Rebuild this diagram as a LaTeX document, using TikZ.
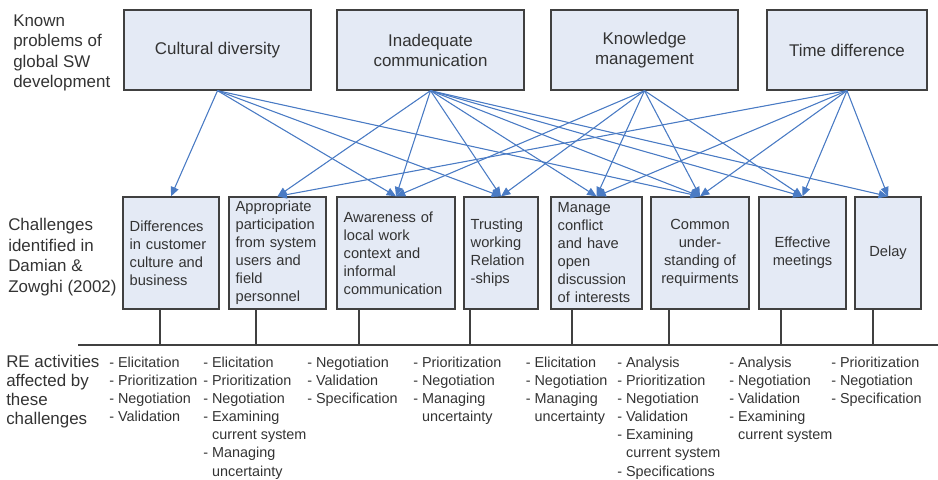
\documentclass[tikz,border=0pt]{standalone}
\usepackage{fontspec}
\setmainfont{Liberation Sans}
\usepackage{tikz}
\usetikzlibrary{arrows.meta, positioning}

\definecolor{boxfill}{HTML}{E4EAF5}
\definecolor{boxline}{HTML}{404040}
\definecolor{arrowblue}{HTML}{4A7BC4}
\definecolor{textgray}{HTML}{333333}

\begin{document}
\begin{tikzpicture}[x=0.75pt, y=-0.75pt,
        problem/.style={rectangle, draw=boxline, line width=1pt, fill=boxfill, minimum height=60pt, minimum width=140.25pt, font=\fontsize{12.7}{15}\selectfont, align=center, text=textgray},
        challenge/.style={rectangle, draw=boxline, line width=1pt, fill=boxfill, minimum height=84pt, inner xsep=5pt, inner ysep=1pt, font=\fontsize{11}{13.5}\selectfont, text=textgray},
        rowtitle/.style={anchor=west, inner sep=0pt, align=left, font=\fontsize{12.7}{15.2}\selectfont, text=textgray},
        activity/.style={anchor=north west, inner sep=0pt, align=left, font=\fontsize{10.8}{13.6}\selectfont, text=textgray},
        arrow/.style={-{Triangle[length=7pt, width=6pt]}, draw=arrowblue, fill=arrowblue, line width=0.8pt},
        connector/.style={draw=boxline, line width=0.9pt}
    ]
        \useasboundingbox (0,0) rectangle (938,479);

        % Row titles
        \node[rowtitle] (problemtitle) at (13,53) {Known\\problems of\\global SW\\development};
        \node[rowtitle, font=\fontsize{12.7}{15.5}\selectfont] (challengetitle) at (8,257) {Challenges\\identified in\\Damian \&\\Zowghi (2002)};
        \node[rowtitle, font=\fontsize{12.7}{14.3}\selectfont] (activitytitle) at (6,392) {RE activities\\affected by\\these\\challenges};

        % Known problems
        \node[problem] (cultural) at (217.5,50) {Cultural diversity};
        \node[problem] (communication) at (430.5,50) {Inadequate\\communication};
        \node[problem] (knowledge) at (644.5,50) {Knowledge\\management};
        \node[problem, minimum width=120pt] (time) at (847,50) {Time difference};

        % Challenges
        \node[challenge, text width=62pt, align=left] (differences) at (171,253) {Differences\\in customer\\culture and\\business};
        \node[challenge, text width=62.75pt, align=left] (participation) at (277.5,253) {Appropriate\\participation\\from system\\users and\\field\\personnel};
        \node[challenge, text width=78.5pt, align=left] (awareness) at (396,253) {Awareness of\\local work\\context and\\informal\\communication};
        \node[challenge, text width=45.5pt, align=left] (trust) at (501,253) {Trusting\\working\\Relation\\-ships};
        \node[challenge, text width=58.25pt, align=left] (conflict) at (596.5,253) {Manage\\conflict\\and have\\open\\discussion\\of interests};
        \node[challenge, minimum width=73.5pt, align=center] (understanding) at (700,253) {Common\\under-\\standing of\\requirments};
        \node[challenge, minimum width=65.25pt, align=center] (meetings) at (802.5,253) {Effective\\meetings};
        \node[challenge, minimum width=49.5pt, align=center] (delay) at (888,253) {Delay};

        % Arrows
        \foreach \dst in {differences, awareness, trust, understanding}
            \draw[arrow] (cultural.south) -- (\dst.north);
        \foreach \dst in {participation, awareness, trust, conflict, understanding, meetings, delay}
            \draw[arrow] (communication.south) -- (\dst.north);
        \foreach \dst in {awareness, trust, conflict, understanding, meetings}
            \draw[arrow] (knowledge.south) -- (\dst.north);
        \foreach \dst in {participation, conflict, understanding, meetings, delay}
            \draw[arrow] (time.south) -- (\dst.north);

        % Base line and ticks
        \coordinate (basewest) at (78,345);
        \coordinate (baseeast) at (938,345);
        \draw[connector] (basewest) -- (baseeast);
        \foreach \name/\x in {differences/160, participation/256, awareness/359, trust/470, conflict/572, understanding/669, meetings/781, delay/873} {
            \coordinate (tick-\name) at (\x,345);
            \draw[connector] (\name.south -| tick-\name) -- (tick-\name);
        }

        % RE activities
        \node[activity] (act1) at (109,356.5) {- Elicitation\\- Prioritization\\- Negotiation\\- Validation};
        \node[activity] (act2) at (203,356.5) {- Elicitation\\- Prioritization\\- Negotiation\\- Examining\\\phantom{- }current system\\- Managing\\\phantom{- }uncertainty};
        \node[activity] (act3) at (307,356.5) {- Negotiation\\- Validation\\- Specification};
        \node[activity] (act4) at (413,356.5) {- Prioritization\\- Negotiation\\- Managing\\\phantom{- }uncertainty};
        \node[activity] (act5) at (525.5,356.5) {- Elicitation\\- Negotiation\\- Managing\\\phantom{- }uncertainty};
        \node[activity] (act6) at (617,356.5) {- Analysis\\- Prioritization\\- Negotiation\\- Validation\\- Examining\\\phantom{- }current system\\- Specifications};
        \node[activity] (act7) at (729,356.5) {- Analysis\\- Negotiation\\- Validation\\- Examining\\\phantom{- }current system};
        \node[activity] (act8) at (831,356.5) {- Prioritization\\- Negotiation\\- Specification};
    \end{tikzpicture}
\end{document}
